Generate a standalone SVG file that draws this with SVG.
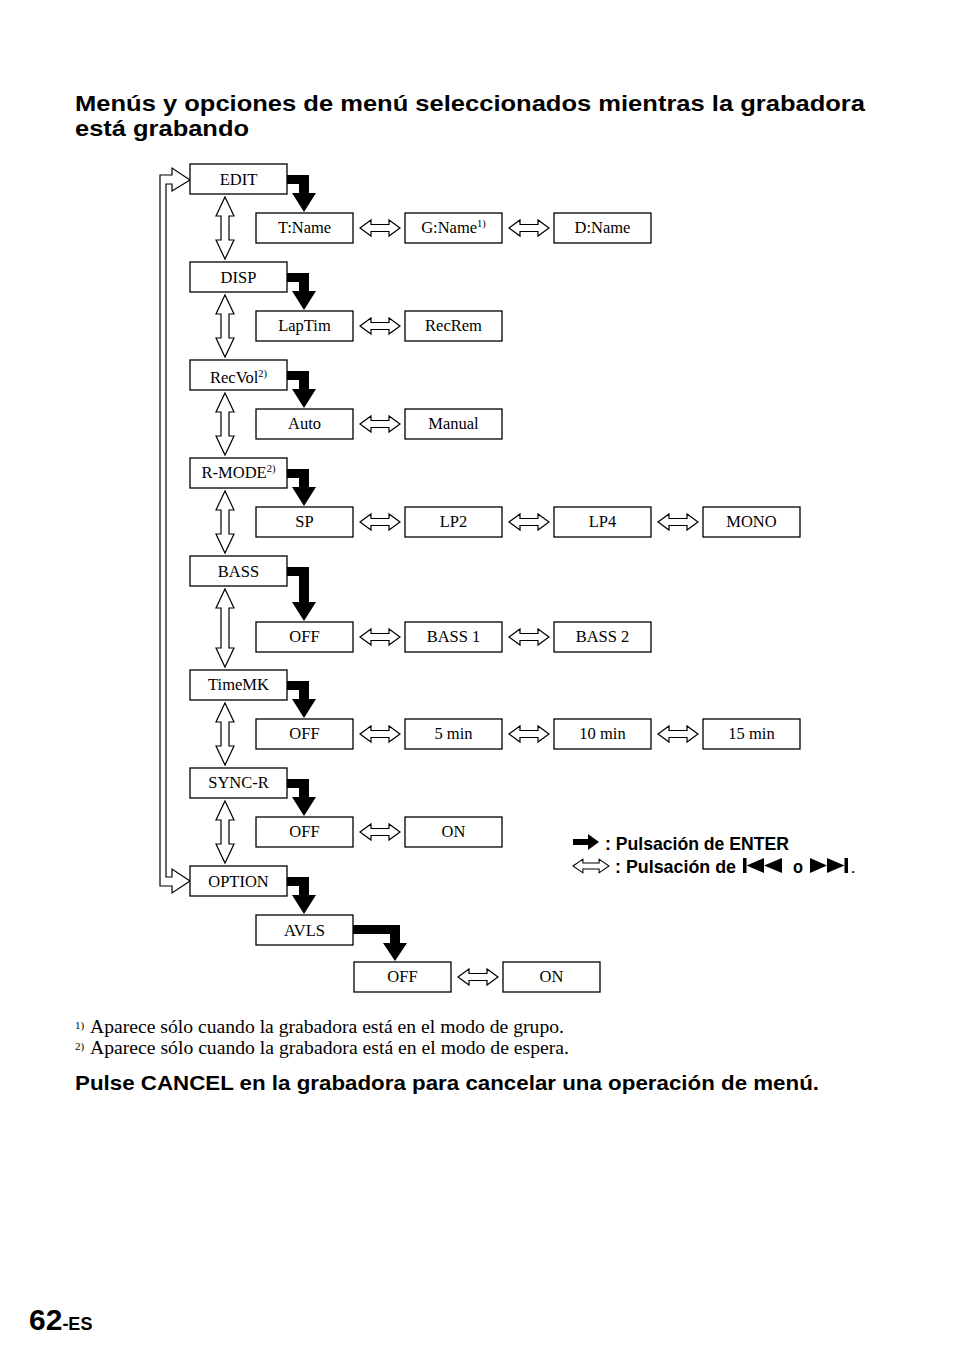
<svg xmlns="http://www.w3.org/2000/svg" xmlns:xlink="http://www.w3.org/1999/xlink" width="954" height="1357" viewBox="0 0 954 1357">
<defs>
<style>
.box{fill:#fff;stroke:#000;stroke-width:1.3}
.lbl{font-family:"Liberation Serif","Times New Roman",serif;font-size:16.5px;fill:#000;text-anchor:middle}
.sup{font-size:10.5px}
.hol{fill:#fff;stroke:#000;stroke-width:1.2;stroke-linejoin:miter}
.blk{fill:#000;stroke:none}
.ttl{font-family:"Liberation Sans",Arial,sans-serif;font-weight:bold;fill:#000}
.fn{font-family:"Liberation Serif","Times New Roman",serif;fill:#000}
</style>
<path id="dh" class="hol" d="M0,0 L11,-8 L11,-3.5 L29,-3.5 L29,-8 L40,0 L29,8 L29,3.5 L11,3.5 L11,8 Z"/>
</defs>
<rect width="954" height="1357" fill="#fff"/>

<g id="title">
<text class="ttl" x="75" y="111" font-size="22" textLength="790" lengthAdjust="spacingAndGlyphs">Menús y opciones de menú seleccionados mientras la grabadora</text>
<text class="ttl" x="75" y="136" font-size="22" textLength="174" lengthAdjust="spacingAndGlyphs">está grabando</text>
</g>

<g id="connectors">
<path class="hol" d="M190,180 L172,168 L172,175 L160,175 L160,886 L172,886 L172,893 L190,881 L172,869 L172,877 L166,877 L166,184 L172,184 L172,191 Z"/>
<path class="hol" d="M225,197 L234,216 L229,216 L229,240 L234,240 L225,259 L216,240 L221,240 L221,216 L216,216 Z"/>
<path class="hol" d="M225,295 L234,314 L229,314 L229,338 L234,338 L225,357 L216,338 L221,338 L221,314 L216,314 Z"/>
<path class="hol" d="M225,393 L234,412 L229,412 L229,436 L234,436 L225,455 L216,436 L221,436 L221,412 L216,412 Z"/>
<path class="hol" d="M225,491 L234,510 L229,510 L229,534 L234,534 L225,553 L216,534 L221,534 L221,510 L216,510 Z"/>
<path class="hol" d="M225,589 L234,608 L229,608 L229,648 L234,648 L225,667 L216,648 L221,648 L221,608 L216,608 Z"/>
<path class="hol" d="M225,703 L234,722 L229,722 L229,746 L234,746 L225,765 L216,746 L221,746 L221,722 L216,722 Z"/>
<path class="hol" d="M225,801 L234,820 L229,820 L229,844 L234,844 L225,863 L216,844 L221,844 L221,820 L216,820 Z"/>
<polygon class="blk" points="287,175 309,175 309,193 316,193 304,212 292,193 299,193 299,184 287,184"/>
<polygon class="blk" points="287,273 309,273 309,291 316,291 304,310 292,291 299,291 299,282 287,282"/>
<polygon class="blk" points="287,371 309,371 309,389 316,389 304,408 292,389 299,389 299,380 287,380"/>
<polygon class="blk" points="287,469 309,469 309,487 316,487 304,506 292,487 299,487 299,478 287,478"/>
<polygon class="blk" points="287,567 309,567 309,602 316,602 304,621 292,602 299,602 299,576 287,576"/>
<polygon class="blk" points="287,681 309,681 309,699 316,699 304,718 292,699 299,699 299,690 287,690"/>
<polygon class="blk" points="287,779 309,779 309,797 316,797 304,816 292,797 299,797 299,788 287,788"/>
<polygon class="blk" points="287,877 309,877 309,895 316,895 304,914 292,895 299,895 299,886 287,886"/>
<polygon class="blk" points="353,925 400,925 400,943 407,943 395,961 383,943 390,943 390,934 353,934"/>
<use xlink:href="#dh" x="360" y="228"/><use xlink:href="#dh" x="509" y="228"/>
<use xlink:href="#dh" x="360" y="326"/>
<use xlink:href="#dh" x="360" y="424"/>
<use xlink:href="#dh" x="360" y="522"/><use xlink:href="#dh" x="509" y="522"/><use xlink:href="#dh" x="658" y="522"/>
<use xlink:href="#dh" x="360" y="637"/><use xlink:href="#dh" x="509" y="637"/>
<use xlink:href="#dh" x="360" y="734"/><use xlink:href="#dh" x="509" y="734"/><use xlink:href="#dh" x="658" y="734"/>
<use xlink:href="#dh" x="360" y="832"/>
<use xlink:href="#dh" x="458" y="977"/>
</g>

<g id="n-edit"><rect class="box" x="190" y="164" width="97" height="30"/><text class="lbl" x="238.5" y="185">EDIT</text></g>
<g id="n-disp"><rect class="box" x="190" y="262" width="97" height="30"/><text class="lbl" x="238.5" y="283">DISP</text></g>
<g id="n-recvol"><rect class="box" x="190" y="360" width="97" height="30"/><text class="lbl" x="238.5" y="383">RecVol<tspan class="sup" dy="-6">2)</tspan></text></g>
<g id="n-rmode"><rect class="box" x="190" y="458" width="97" height="30"/><text class="lbl" x="238.5" y="478">R-MODE<tspan class="sup" dy="-6">2)</tspan></text></g>
<g id="n-bass"><rect class="box" x="190" y="556" width="97" height="30"/><text class="lbl" x="238.5" y="577">BASS</text></g>
<g id="n-timemk"><rect class="box" x="190" y="670" width="97" height="30"/><text class="lbl" x="238.5" y="690">TimeMK</text></g>
<g id="n-syncr"><rect class="box" x="190" y="768" width="97" height="30"/><text class="lbl" x="238.5" y="788">SYNC-R</text></g>
<g id="n-option"><rect class="box" x="190" y="866" width="97" height="30"/><text class="lbl" x="238.5" y="887">OPTION</text></g>

<g id="n-tname"><rect class="box" x="256" y="213" width="97" height="30"/><text class="lbl" x="304.5" y="233">T:Name</text></g>
<g id="n-gname"><rect class="box" x="405" y="213" width="97" height="30"/><text class="lbl" x="453.5" y="233">G:Name<tspan class="sup" dy="-6">1)</tspan></text></g>
<g id="n-dname"><rect class="box" x="554" y="213" width="97" height="30"/><text class="lbl" x="602.5" y="233">D:Name</text></g>
<g id="n-laptim"><rect class="box" x="256" y="311" width="97" height="30"/><text class="lbl" x="304.5" y="331">LapTim</text></g>
<g id="n-recrem"><rect class="box" x="405" y="311" width="97" height="30"/><text class="lbl" x="453.5" y="331">RecRem</text></g>
<g id="n-auto"><rect class="box" x="256" y="409" width="97" height="30"/><text class="lbl" x="304.5" y="429">Auto</text></g>
<g id="n-manual"><rect class="box" x="405" y="409" width="97" height="30"/><text class="lbl" x="453.5" y="429">Manual</text></g>
<g id="n-sp"><rect class="box" x="256" y="507" width="97" height="30"/><text class="lbl" x="304.5" y="527">SP</text></g>
<g id="n-lp2"><rect class="box" x="405" y="507" width="97" height="30"/><text class="lbl" x="453.5" y="527">LP2</text></g>
<g id="n-lp4"><rect class="box" x="554" y="507" width="97" height="30"/><text class="lbl" x="602.5" y="527">LP4</text></g>
<g id="n-mono"><rect class="box" x="703" y="507" width="97" height="30"/><text class="lbl" x="751.5" y="527">MONO</text></g>
<g id="n-bassoff"><rect class="box" x="256" y="622" width="97" height="30"/><text class="lbl" x="304.5" y="642">OFF</text></g>
<g id="n-bass1"><rect class="box" x="405" y="622" width="97" height="30"/><text class="lbl" x="453.5" y="642">BASS 1</text></g>
<g id="n-bass2"><rect class="box" x="554" y="622" width="97" height="30"/><text class="lbl" x="602.5" y="642">BASS 2</text></g>
<g id="n-tmoff"><rect class="box" x="256" y="719" width="97" height="30"/><text class="lbl" x="304.5" y="739">OFF</text></g>
<g id="n-5min"><rect class="box" x="405" y="719" width="97" height="30"/><text class="lbl" x="453.5" y="739">5 min</text></g>
<g id="n-10min"><rect class="box" x="554" y="719" width="97" height="30"/><text class="lbl" x="602.5" y="739">10 min</text></g>
<g id="n-15min"><rect class="box" x="703" y="719" width="97" height="30"/><text class="lbl" x="751.5" y="739">15 min</text></g>
<g id="n-syoff"><rect class="box" x="256" y="817" width="97" height="30"/><text class="lbl" x="304.5" y="837">OFF</text></g>
<g id="n-syon"><rect class="box" x="405" y="817" width="97" height="30"/><text class="lbl" x="453.5" y="837">ON</text></g>
<g id="n-avls"><rect class="box" x="256" y="915" width="97" height="30"/><text class="lbl" x="304.5" y="936">AVLS</text></g>
<g id="n-avoff"><rect class="box" x="354" y="962" width="97" height="30"/><text class="lbl" x="402.5" y="982">OFF</text></g>
<g id="n-avon"><rect class="box" x="503" y="962" width="97" height="30"/><text class="lbl" x="551.5" y="982">ON</text></g>

<g id="legend">
<polygon class="blk" points="573,839 588,839 588,834 599,842 588,850 588,845 573,845"/>
<text class="ttl" x="605" y="850" font-size="19" textLength="184" lengthAdjust="spacingAndGlyphs">: Pulsación de ENTER</text>
<use xlink:href="#dh" x="0" y="0" transform="translate(573,866) scale(0.9,0.85)"/>
<text class="ttl" x="615" y="873" font-size="19" textLength="121" lengthAdjust="spacingAndGlyphs">: Pulsación de</text>
<rect class="blk" x="743" y="858" width="3.5" height="15"/>
<polygon class="blk" points="746.5,865.5 764,858 764,873"/>
<polygon class="blk" points="764,865.5 782,858 782,873"/>
<text class="ttl" x="793" y="873" font-size="19" textLength="10" lengthAdjust="spacingAndGlyphs">o</text>
<polygon class="blk" points="810,858 827,865.5 810,873"/>
<polygon class="blk" points="827,858 844.5,865.5 827,873"/>
<rect class="blk" x="844.5" y="858" width="3.5" height="15"/>
<text class="fn" x="851" y="873" font-size="17">.</text>
</g>

<g id="footnotes">
<text class="fn" x="75" y="1029" font-size="11">1)</text>
<text class="fn" x="90" y="1033" font-size="18" textLength="474" lengthAdjust="spacingAndGlyphs">Aparece sólo cuando la grabadora está en el modo de grupo.</text>
<text class="fn" x="75" y="1050" font-size="11">2)</text>
<text class="fn" x="90" y="1054" font-size="18" textLength="479" lengthAdjust="spacingAndGlyphs">Aparece sólo cuando la grabadora está en el modo de espera.</text>
</g>

<text class="ttl" x="75" y="1090" font-size="20.5" textLength="744" lengthAdjust="spacingAndGlyphs">Pulse CANCEL en la grabadora para cancelar una operación de menú.</text>

<g id="pagenum">
<text class="ttl" x="29" y="1330" font-size="30">62<tspan font-size="18">-ES</tspan></text>
</g>
</svg>
